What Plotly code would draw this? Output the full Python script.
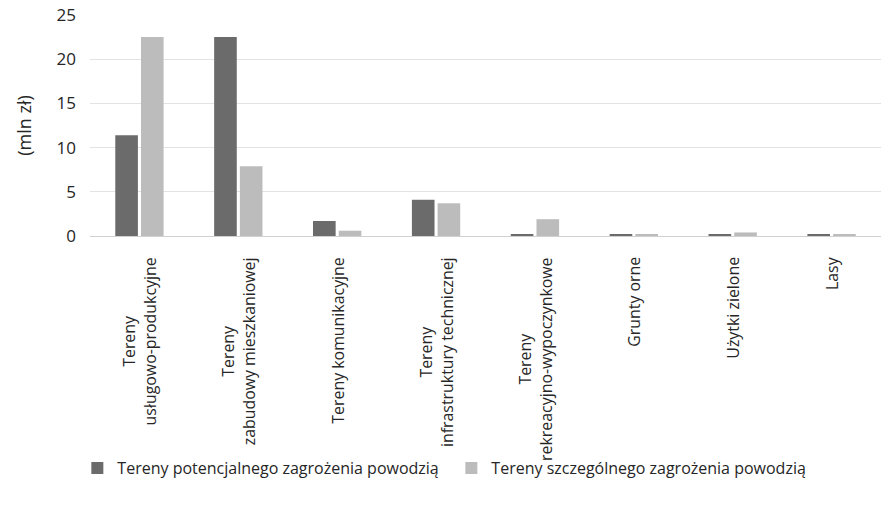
import plotly.graph_objects as go

categories = [
    "Tereny<br>usługowo-produkcyjne",
    "Tereny<br>zabudowy mieszkaniowej",
    "Tereny komunikacyjne",
    "Tereny<br>infrastruktury technicznej",
    "Tereny<br>rekreacyjno-wypoczynkowe",
    "Grunty orne",
    "Użytki zielone",
    "Lasy",
]
series_names = ["Tereny potencjalnego zagrożenia powodzią", "Tereny szczególnego zagrożenia powodzią"]
potencjalne = [11.4, 22.5, 1.7, 4.1, 0.2, 0.2, 0.2, 0.2]
szczegolne = [22.5, 7.9, 0.6, 3.7, 1.9, 0.2, 0.4, 0.2]
y_max = 25
y_step = 5

FONT = "Open Sans"
TXT = "#262626"
x_idx = list(range(len(categories)))

fig = go.Figure()
fig.add_trace(go.Bar(x=x_idx, y=potencjalne, name=series_names[0],
                     marker=dict(color="#6b6b6b", line=dict(width=0))))
fig.add_trace(go.Bar(x=x_idx, y=szczegolne, name=series_names[1],
                     marker=dict(color="#bcbcbc", line=dict(width=0))))

for i, c in enumerate(categories):
    fig.add_annotation(x=i, y=0, xref="x", yref="paper", text=c, textangle=-90,
                       showarrow=False, xanchor="center", yanchor="top", yshift=-19,
                       align="center", font=dict(family=FONT, size=15.9, color=TXT))

fig.update_layout(
    width=881, height=506,
    margin=dict(l=90, r=0, t=15, b=270, autoexpand=False),
    paper_bgcolor="white", plot_bgcolor="white",
    barmode="group", bargap=0.48, bargroupgap=0.12,
    font=dict(family=FONT, size=15, color=TXT),
    showlegend=True,
    legend=dict(orientation="h", x=-0.016, xanchor="left", y=-1.05, yanchor="middle",
                font=dict(family=FONT, size=16, color=TXT), entrywidth=329,
                itemwidth=30, traceorder="normal"),
    xaxis=dict(range=[-0.5, len(categories) - 0.5], showticklabels=False, showgrid=False,
               zeroline=False, showline=False, ticks=""),
    yaxis=dict(range=[0, y_max], tickmode="linear", tick0=0, dtick=y_step,
               ticklabeloverflow="allow",
               showgrid=True, gridcolor="#e3e3e3", gridwidth=1.2,
               zeroline=True, zerolinecolor="#d0d0d0", zerolinewidth=1.2, showline=False,
               ticks="", ticklabelstandoff=13,
               tickfont=dict(family=FONT, size=17, color=TXT),
               title=dict(text="(mln zł)", standoff=20, font=dict(family=FONT, size=18, color=TXT))),
)

fig.write_html("out.html", config={"displayModeBar": False},
               post_script="document.body.style.margin='0px';document.body.style.overflow='hidden';")
